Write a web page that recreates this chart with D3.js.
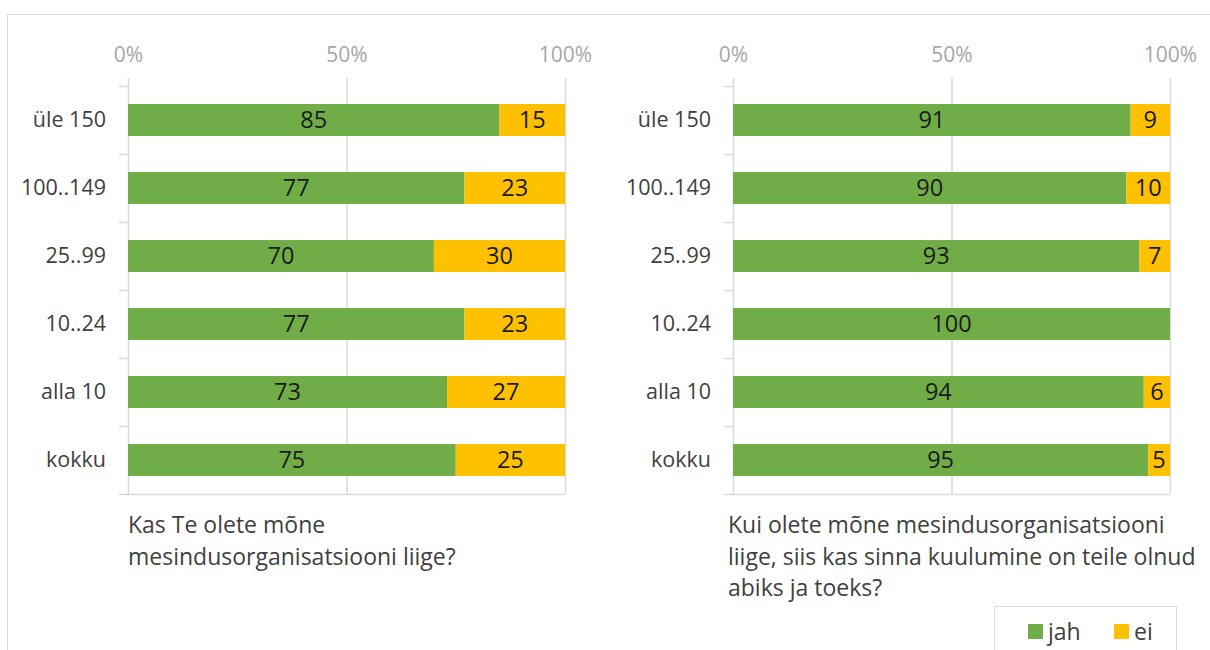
<!DOCTYPE html>
<html>
<head>
<meta charset="utf-8">
<script src="https://cdn.jsdelivr.net/npm/d3@7"></script>
<style>
  body { margin: 0; background: #fff; }
  svg { display: block; font-family: "Open Sans", sans-serif; }
</style>
</head>
<body>
<svg id="chart" width="1210" height="650"></svg>
<script>
'use strict';

// kategooriad (pere suurus) ja vastused
const categories = ['üle 150', '100..149', '25..99', '10..24', 'alla 10', 'kokku'];
const seriesNames = ['jah', 'ei'];
const leftJah = [85, 77, 70, 77, 73, 75];
const leftEi = [15, 23, 30, 23, 27, 25];
const rightJah = [91, 90, 93, 100, 94, 95];
const rightEi = [9, 10, 7, 0, 6, 5];
const tickValues = [0, 50, 100];
const leftTitle = ['Kas Te olete mõne', 'mesindusorganisatsiooni liige?'];
const rightTitle = ['Kui olete mõne mesindusorganisatsiooni', 'liige, siis kas sinna kuulumine on teile olnud', 'abiks ja toeks?'];

const COLORS = {jah: '#70AD47', ei: '#FFC000'};
const GRID = '#D9D9D9';

const svg = d3.select('#chart');

// välimine raam
svg.append('path')
  .attr('d', 'M7.5,650 V14.5 H1210')
  .attr('fill', 'none')
  .attr('stroke', GRID);

// üks paneel
const drawPanel = (x0, jah, ei, title) => {
  const x = d3.scaleLinear().domain([0, 100]).range([x0, x0 + 437]);
  const y = d3.scaleBand().domain(categories).range([86, 494]).paddingInner(0.53).paddingOuter(0.265);
  const g = svg.append('g');

  // ruudujooned
  g.selectAll('line.grid')
    .data(tickValues)
    .enter()
    .append('line')
    .attr('x1', d => x(d) + 0.5)
    .attr('x2', d => x(d) + 0.5)
    .attr('y1', 78)
    .attr('y2', 494)
    .attr('stroke', GRID)
    .attr('stroke-width', 1.5);

  // ülemine telg
  const top = g.append('g')
    .attr('transform', 'translate(0,58)')
    .call(d3.axisTop(x).tickValues(tickValues).tickSize(0).tickFormat(d => d + '%'));
  top.select('.domain').remove();
  top.selectAll('text')
    .attr('fill', '#A6A6A6')
    .attr('font-size', 21)
    .attr('dy', '0.35em')
    .attr('font-family', '"Open Sans", sans-serif');

  // kategooriate piiride kriipsud
  const bounds = categories.map(c => y(c) - y.step() * y.paddingInner() / 2).concat([494]);
  g.selectAll('line.tick')
    .data(bounds)
    .enter()
    .append('line')
    .attr('x1', x0 - 9)
    .attr('x2', (d, i) => i === bounds.length - 1 ? x(100) : x0)
    .attr('y1', d => Math.round(d) + 0.5)
    .attr('y2', d => Math.round(d) + 0.5)
    .attr('stroke', GRID)
    .attr('stroke-width', 1.5);

  // vasak telg
  const left = g.append('g')
    .attr('transform', `translate(${x0},0)`)
    .call(d3.axisLeft(y).tickSize(0).tickPadding(22));
  left.select('.domain').remove();
  left.selectAll('text')
    .attr('fill', '#404040')
    .attr('font-size', 21.5)
    .attr('font-family', '"Open Sans", sans-serif');

  // tulbad
  const rows = categories.map((c, i) => ({cat: c, jah: jah[i], ei: ei[i]}));
  const stacked = d3.stack().keys(seriesNames)(rows);
  const layer = g.selectAll('g.layer')
    .data(stacked)
    .enter()
    .append('g')
    .attr('fill', d => COLORS[d.key]);

  layer.selectAll('rect')
    .data(d => d)
    .enter()
    .append('rect')
    .attr('x', d => x(d[0]))
    .attr('width', d => x(d[1]) - x(d[0]))
    .attr('y', d => y(d.data.cat))
    .attr('height', y.bandwidth());

  // andmesildid
  layer.selectAll('text')
    .data(d => d.filter(s => s[1] - s[0] > 0))
    .enter()
    .append('text')
    .attr('x', d => (x(d[0]) + x(d[1])) / 2)
    .attr('y', d => y(d.data.cat) + y.bandwidth() / 2)
    .attr('dy', '0.36em')
    .attr('text-anchor', 'middle')
    .attr('fill', '#1A1A1A')
    .attr('font-size', 23.5)
    .text(d => d[1] - d[0]);

  // pealkiri
  const tx = x0 - (title.length > 2 ? 5 : 0);
  g.append('text')
    .attr('x', tx)
    .attr('y', 525)
    .attr('fill', '#404040')
    .attr('font-size', 23)
    .selectAll('tspan')
    .data(title)
    .enter()
    .append('tspan')
    .attr('x', tx)
    .attr('dy', (d, i) => i === 0 ? '0.35em' : 31.5)
    .text(d => d);
};

drawPanel(128, leftJah, leftEi, leftTitle);
drawPanel(733, rightJah, rightEi, rightTitle);

// legend
const legend = svg.append('g');
legend.append('rect')
  .attr('x', 994.5)
  .attr('y', 606.5)
  .attr('width', 182)
  .attr('height', 60)
  .attr('fill', '#fff')
  .attr('stroke', GRID);

const legendX = d3.scaleOrdinal().domain(seriesNames).range([1028, 1114]);
const item = legend.selectAll('g.item')
  .data(seriesNames)
  .enter()
  .append('g')
  .attr('transform', d => `translate(${legendX(d)},624)`);
item.append('rect')
  .attr('width', 15)
  .attr('height', 15)
  .attr('fill', d => COLORS[d]);
item.append('text')
  .attr('x', 20)
  .attr('y', 8)
  .attr('dy', '0.36em')
  .attr('fill', '#404040')
  .attr('font-size', 23)
  .text(d => d);
</script>
</body>
</html>
